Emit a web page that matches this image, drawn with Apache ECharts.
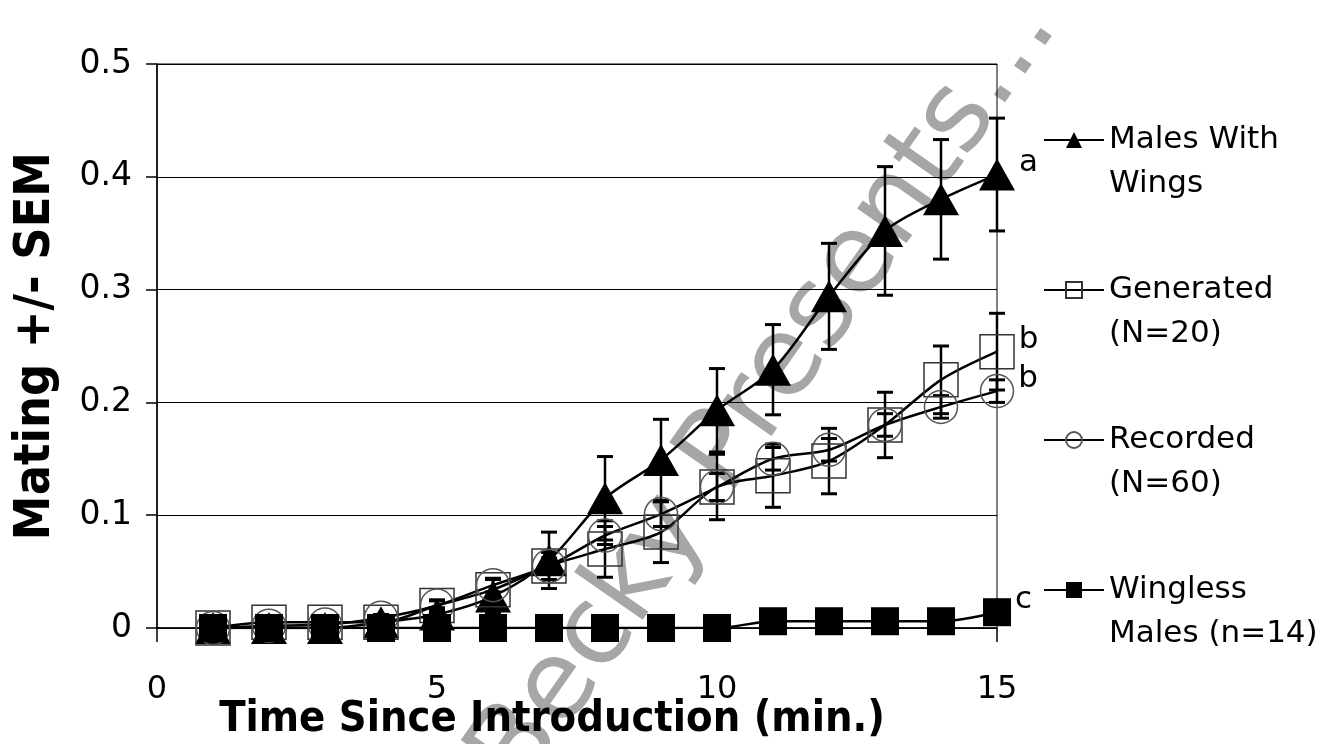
<!DOCTYPE html>
<html>
<head>
    <meta charset="utf-8">
    <title>Mating over time</title>
    <script src="https://cdn.jsdelivr.net/npm/echarts@6/dist/echarts.min.js"></script>
    <style>
        html, body { margin: 0; padding: 0; background: #fff; }
        #chart { width: 1323px; height: 744px; }
    </style>
</head>
<body>
    <div id="chart"></div>
    <script>
        // minutes since introduction
        const minutes = [1, 2, 3, 4, 5, 6, 7, 8, 9, 10, 11, 12, 13, 14, 15];

        const seriesNames = ['Males With\nWings', 'Generated\n(N=20)', 'Recorded\n(N=60)', 'Wingless\nMales (n=14)'];
        const sigLetters = ['a', 'b', 'b', 'c'];

        const wingsMean = [0, 0, 0, 0.005, 0.012, 0.028, 0.06, 0.115, 0.149, 0.193, 0.229, 0.294, 0.352, 0.38, 0.402];
        const wingsSem = [0, 0, 0, 0.003, 0.006, 0.015, 0.025, 0.037, 0.036, 0.037, 0.04, 0.047, 0.057, 0.053, 0.05];

        const generatedMean = [0, 0.005, 0.005, 0.005, 0.02, 0.034, 0.055, 0.07, 0.085, 0.125, 0.135, 0.148, 0.18, 0.22, 0.245];
        const generatedSem = [0, 0, 0, 0.003, 0.005, 0.01, 0.012, 0.025, 0.027, 0.029, 0.028, 0.029, 0.029, 0.03, 0.034];

        const recordedMean = [0, 0.002, 0.003, 0.009, 0.02, 0.038, 0.055, 0.082, 0.101, 0.125, 0.15, 0.158, 0.18, 0.196, 0.21];
        const recordedSem = [0, 0.002, 0.002, 0.003, 0.004, 0.006, 0.007, 0.008, 0.011, 0.012, 0.01, 0.01, 0.01, 0.01, 0.01];

        const winglessMean = [0, 0, 0, 0, 0, 0, 0, 0, 0, 0, 0.006, 0.006, 0.006, 0.006, 0.014];
        const winglessSem = [0, 0, 0, 0, 0, 0, 0, 0, 0, 0, 0.003, 0.003, 0.003, 0.003, 0.006];

        const yTicks = { min: 0, max: 0.5, step: 0.1 };
        const xTicks = { min: 0, max: 15, step: 5 };

        const font = '"DejaVu Sans", sans-serif';
        const titleFont = '"Liberation Sans Narrow", "DejaVu Sans Condensed", "Liberation Sans", sans-serif';

        // points with the significance letter on the last one
        function points(means, letter) {
            return minutes.map((m, i) => {
                if (i === minutes.length - 1) {
                    return {
                        value: [m, means[i]],
                        label: {
                            show: true, formatter: letter, position: 'right', distance: 4,
                            offset: [0, -12], color: '#000', fontSize: 31, fontFamily: font
                        }
                    };
                }
                return [m, means[i]];
            });
        }

        function bars(means, sems) {
            return minutes
                .map((m, i) => [m, means[i] - sems[i], means[i] + sems[i]])
                .filter(d => d[2] - d[1] > 0);
        }

        function errorBar(params, api) {
            const x = api.value(0);
            const lo = api.coord([x, api.value(1)]);
            const hi = api.coord([x, api.value(2)]);
            const w = 8;
            const cap = { stroke: '#000', lineWidth: 3 };
            return {
                type: 'group',
                children: [
                    { type: 'line', shape: { x1: lo[0], y1: lo[1], x2: hi[0], y2: hi[1] }, style: { stroke: '#000', lineWidth: 2.5 } },
                    { type: 'line', shape: { x1: hi[0] - w, y1: hi[1], x2: hi[0] + w, y2: hi[1] }, style: cap },
                    { type: 'line', shape: { x1: lo[0] - w, y1: lo[1], x2: lo[0] + w, y2: lo[1] }, style: cap }
                ]
            };
        }

        function errSeries(id, means, sems) {
            return {
                name: id,
                type: 'custom',
                renderItem: errorBar,
                encode: { x: 0, y: [1, 2] },
                data: bars(means, sems),
                z: 3,
                silent: true
            };
        }

        function lineSeries(name, means, letter, symbol, size, fill, border) {
            return {
                name: name,
                type: 'line',
                data: points(means, letter),
                smooth: 0.3,
                symbol: symbol,
                symbolSize: size,
                showAllSymbol: true,
                color: '#000',
                lineStyle: { color: '#000', width: 2.5 },
                itemStyle: { color: fill, borderColor: border, borderWidth: fill === '#000' ? 0 : 1.5 },
                emphasis: { disabled: true },
                z: 4
            };
        }

        const chart = echarts.init(document.getElementById('chart'));
        chart.setOption({
            animation: false,
            backgroundColor: '#fff',
            grid: {
                left: 157, right: 326, top: 64, bottom: 116,
                outerBoundsMode: 'none',
                containLabel: false,
                show: true, borderColor: '#000', borderWidth: 1
            },
            legend: {
                data: seriesNames,
                orient: 'vertical',
                left: 1043,
                top: 74,
                padding: 0,
                itemWidth: 60,
                itemHeight: 20,
                itemGap: 18,
                selectedMode: false,
                formatter: name => '\n' + name,
                textStyle: {
                    fontSize: 31, fontFamily: font, color: '#000', lineHeight: 44
                }
            },
            xAxis: {
                type: 'value',
                min: xTicks.min, max: xTicks.max, interval: xTicks.step,
                name: 'Time Since Introduction (min.)',
                nameLocation: 'middle',
                nameGap: 70,
                nameMoveOverlap: false,
                nameTextStyle: {
                    fontSize: 43, fontWeight: 'bold', fontFamily: titleFont, color: '#000',
                    padding: [0, 50, 0, 0]
                },
                axisLine: { lineStyle: { color: '#000', width: 1.5 } },
                axisTick: { show: true, length: 14, lineStyle: { color: '#000', width: 1.5 } },
                axisLabel: { margin: 46, fontSize: 32, fontFamily: font, color: '#000' },
                splitLine: { show: false }
            },
            yAxis: {
                type: 'value',
                min: yTicks.min, max: yTicks.max, interval: yTicks.step,
                name: 'Mating +/- SEM',
                nameLocation: 'middle',
                nameRotate: 90,
                nameGap: 96,
                nameMoveOverlap: false,
                nameTextStyle: { fontSize: 50, fontWeight: 'bold', fontFamily: titleFont, color: '#000' },
                axisLine: { show: true, lineStyle: { color: '#000', width: 1.5 } },
                axisTick: { show: true, length: 11, lineStyle: { color: '#000', width: 1.5 } },
                axisLabel: { margin: 25, fontSize: 33, fontFamily: font, color: '#000' },
                splitLine: { show: true, lineStyle: { color: '#000', width: 1 } }
            },
            graphic: [{
                type: 'text',
                x: 766, y: 394,
                rotation: 55 * Math.PI / 180,
                z: -10,
                silent: true,
                style: {
                    text: 'Becky Presents...',
                    fontSize: 110, fontFamily: font,
                    fill: '#a6a6a6',
                    align: 'center', verticalAlign: 'middle'
                }
            }],
            series: [
                errSeries('wingsErr', wingsMean, wingsSem),
                errSeries('generatedErr', generatedMean, generatedSem),
                errSeries('recordedErr', recordedMean, recordedSem),
                errSeries('winglessErr', winglessMean, winglessSem),
                lineSeries(seriesNames[0], wingsMean, sigLetters[0], 'triangle', [36, 32], '#000', '#000'),
                lineSeries(seriesNames[1], generatedMean, sigLetters[1], 'rect', 34, 'rgba(255,255,255,0)', '#333'),
                lineSeries(seriesNames[2], recordedMean, sigLetters[2], 'circle', 33, 'rgba(255,255,255,0)', '#555'),
                lineSeries(seriesNames[3], winglessMean, sigLetters[3], 'rect', 28, '#000', '#000')
            ]
        });
    </script>
</body>
</html>
